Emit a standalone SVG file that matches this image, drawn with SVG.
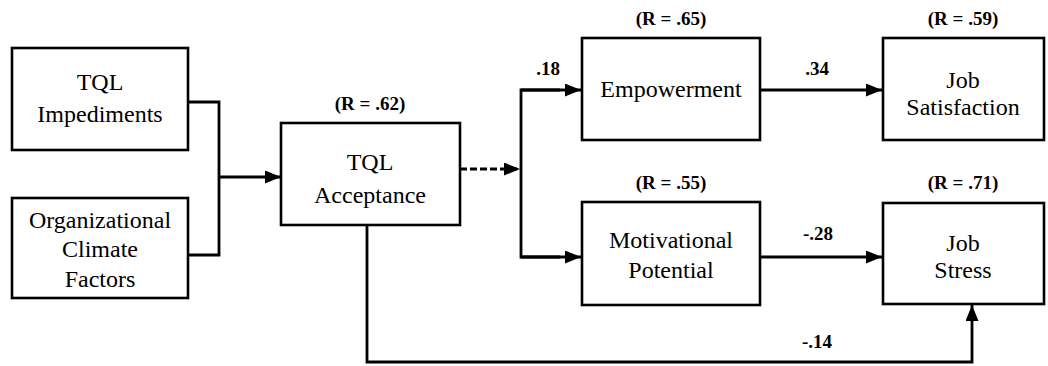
<svg xmlns="http://www.w3.org/2000/svg" width="1048" height="366" viewBox="0 0 1048 366">
<defs>
<style>
.box{fill:#fff;stroke:#000;stroke-width:2.6}
.t{font-family:"Liberation Serif","Times New Roman","DejaVu Serif",serif;font-size:24px;fill:#000;text-anchor:middle}
.r{font-family:"Liberation Serif","Times New Roman","DejaVu Serif",serif;font-size:19px;font-weight:bold;fill:#000;text-anchor:middle}
.c{fill:none;stroke:#000;stroke-width:2.8}
</style>
<marker id="ah" viewBox="0 0 16 13" refX="16" refY="6.5" markerWidth="16" markerHeight="13" markerUnits="userSpaceOnUse" orient="auto">
<path d="M0,0 L16,6.5 L0,13 Z" fill="#000"/>
</marker>
</defs>
<rect width="1048" height="366" fill="#fff"/>
<g id="connectors">
<polyline class="c" points="188,102 219,102 219,255 188,255"/>
<line class="c" x1="219" y1="177" x2="281" y2="177" marker-end="url(#ah)"/>
<line class="c" x1="460" y1="169" x2="520" y2="169" stroke-dasharray="7,3" marker-end="url(#ah)"/>
<polyline class="c" points="560,90 521,90 521,257 560,257"/>
<line class="c" x1="521" y1="90" x2="581" y2="90" marker-end="url(#ah)"/>
<line class="c" x1="521" y1="257" x2="581" y2="257" marker-end="url(#ah)"/>
<line class="c" x1="760" y1="90" x2="882" y2="90" marker-end="url(#ah)"/>
<line class="c" x1="760" y1="257" x2="882" y2="257" marker-end="url(#ah)"/>
<polyline class="c" points="367,225 367,362 972,362 972,305" marker-end="url(#ah)"/>
<text class="r" x="548" y="75">.18</text>
<text class="r" x="817" y="75">.34</text>
<text class="r" x="818" y="240">-.28</text>
<text class="r" x="817" y="348">-.14</text>
</g>
<g id="tql-impediments">
<rect class="box" x="12" y="48" width="176" height="102"/>
<text class="t" x="100" y="90">TQL</text>
<text class="t" x="100" y="122">Impediments</text>
</g>
<g id="org-climate">
<rect class="box" x="12" y="198" width="176" height="100"/>
<text class="t" x="100" y="228">Organizational</text>
<text class="t" x="100" y="257">Climate</text>
<text class="t" x="100" y="287">Factors</text>
</g>
<g id="tql-acceptance">
<text class="r" x="370" y="110">(R = .62)</text>
<rect class="box" x="281" y="123" width="179" height="102"/>
<text class="t" x="370" y="170">TQL</text>
<text class="t" x="370" y="203">Acceptance</text>
</g>
<g id="empowerment">
<text class="r" x="671" y="25">(R = .65)</text>
<rect class="box" x="582" y="38" width="178" height="102"/>
<text class="t" x="671" y="97">Empowerment</text>
</g>
<g id="motivational">
<text class="r" x="671" y="189">(R = .55)</text>
<rect class="box" x="582" y="202" width="178" height="103"/>
<text class="t" x="671" y="248">Motivational</text>
<text class="t" x="671" y="278">Potential</text>
</g>
<g id="job-satisfaction">
<text class="r" x="963" y="25">(R = .59)</text>
<rect class="box" x="883" y="38" width="161" height="102"/>
<text class="t" x="963" y="88">Job</text>
<text class="t" x="963" y="115">Satisfaction</text>
</g>
<g id="job-stress">
<text class="r" x="963" y="189">(R = .71)</text>
<rect class="box" x="883" y="203" width="161" height="101"/>
<text class="t" x="963" y="251">Job</text>
<text class="t" x="963" y="278">Stress</text>
</g>
</svg>
